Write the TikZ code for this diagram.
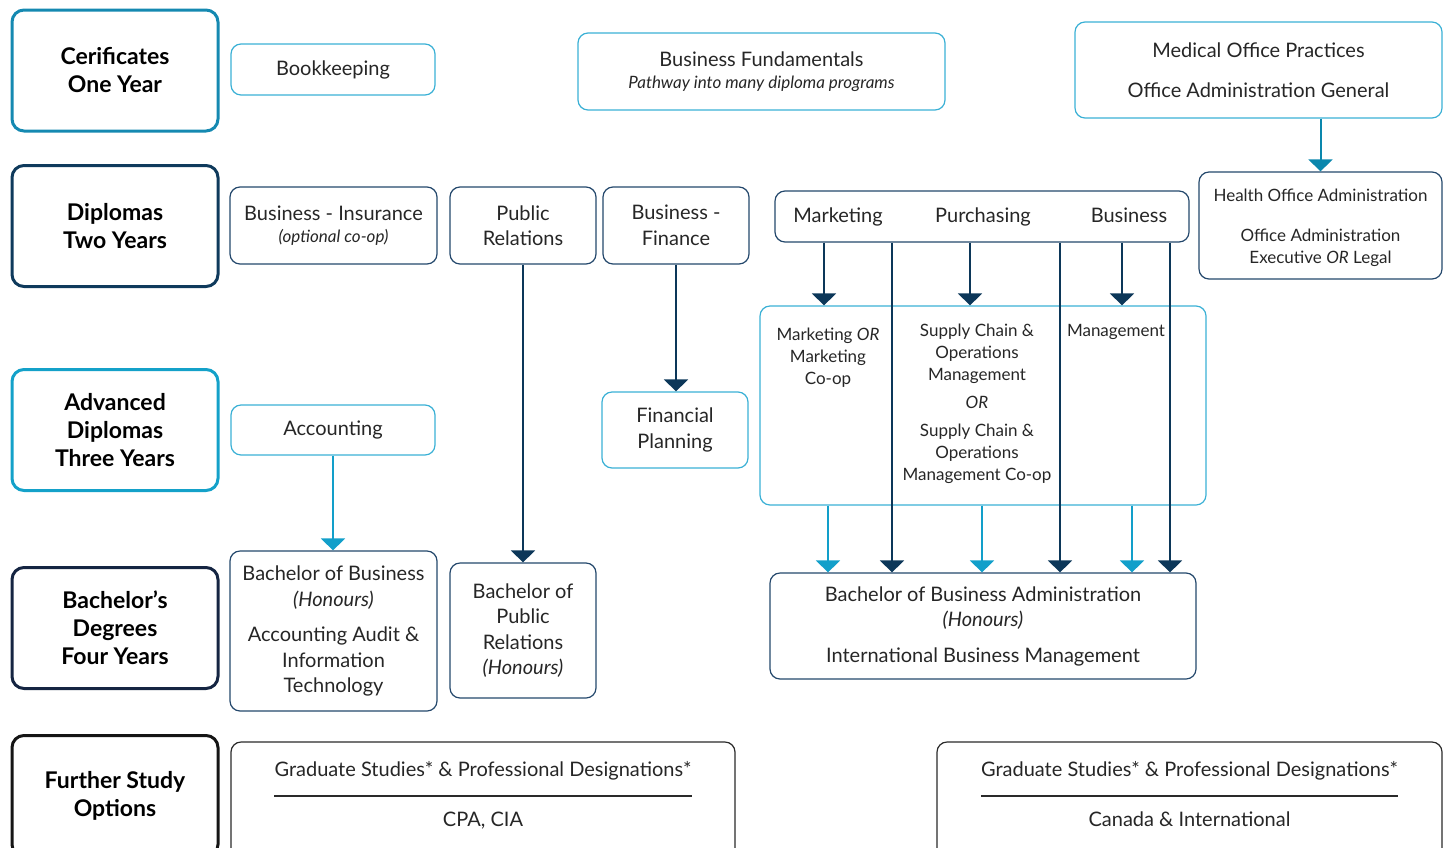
\documentclass[tikz,border=0pt]{standalone}
\usepackage{fontspec}
\setmainfont{Lato}
\usepackage{xcolor}
\usetikzlibrary{arrows.meta,calc}
\definecolor{certcolor}{HTML}{1589B1}
\definecolor{dipcolor}{HTML}{0F3A5C}
\definecolor{advcolor}{HTML}{14A1C9}
\definecolor{bachcolor}{HTML}{152542}
\definecolor{furthercolor}{HTML}{151515}
\definecolor{litecolor}{HTML}{3AB0D5}
\definecolor{navycolor}{HTML}{24486C}
\definecolor{gradcolor}{HTML}{2A2A2A}
\definecolor{litearrow}{HTML}{129FCA}
\definecolor{navyarrow}{HTML}{0C3759}
\definecolor{mediarrow}{HTML}{0A87AD}
\colorlet{textc}{black!85}
\newcommand{\catfont}{% category labels
\bfseries\fontsize{23}{28}\selectfont}
\newcommand{\progfont}{% program names
\fontsize{20}{25.5}\selectfont}
\newcommand{\smallfont}{% smaller program names
\fontsize{17}{22}\selectfont}
\newcommand{\subfont}{% italic remarks
\itshape\fontsize{17}{22}\selectfont}
\tikzstyle{catbox} =[
    draw,
    rounded corners=12pt,
    line width=3pt,
    minimum width=206pt,
    minimum height=121pt,
    align=center,
    font=\catfont,
    text=black
    ]
\tikzstyle{progbox} =[
    draw=navycolor,
    rounded corners=10pt,
    line width=1.2pt,
    align=center,
    font=\progfont,
    text=textc,
    inner sep=0pt
    ]
\tikzstyle{litebox} =[progbox, draw=litecolor]
\tikzstyle{txt} =[font=\progfont, text=textc, align=center, inner sep=0pt]
\tikzstyle{darr} =[draw=navyarrow, line width=2pt, -{Triangle[width=24pt,length=12pt]}]
\tikzstyle{larr} =[darr, draw=litearrow]
\tikzstyle{marr} =[darr, draw=mediarrow]

\begin{document}
\begin{tikzpicture}[x=1pt,y=-1pt]
\useasboundingbox (0,0) rectangle (1448,847);
\clip (0,0) rectangle (1448,847);
% categories
\node[catbox, draw=certcolor] (cert) at (115,70.5) {Cerificates\\One Year};
\node[catbox, draw=dipcolor] (dipl) at (115,226) {Diplomas\\Two Years};
\node[catbox, draw=advcolor] (adv) at (115,430) {Advanced\\Diplomas\\Three Years};
\node[catbox, draw=bachcolor] (bach) at (115,628) {Bachelor's\\Degrees\\Four Years};
\node[catbox, draw=furthercolor] (further) at (115,796) {Further Study\\Options};
% one year
\node[litebox, minimum width=204pt, minimum height=51pt] (book) at (333,69.5) {Bookkeeping};
\node[litebox, minimum width=367pt, minimum height=77pt] (fund) at (761.5,71.5) {%
    Business Fundamentals\\[-4pt]{\subfont Pathway into many diploma programs}};
\node[litebox, minimum width=367pt, minimum height=96pt] (medi) at (1258.5,70) {%
    Medical Office Practices\\[14pt]Office Administration General};
% two years
\node[progbox, minimum width=207pt, minimum height=77pt] (insu) at (333.5,225.5) {%
    Business - Insurance\\[-4pt]{\subfont (optional co-op)}};
\node[progbox, minimum width=146pt, minimum height=77pt] (pubr) at (523,225.5) {Public\\Relations};
\node[progbox, minimum width=146pt, minimum height=77pt] (finc) at (676,225.5) {Business -\\Finance};
\node[progbox, minimum width=414pt, minimum height=51pt] (trio) at (982,216.5) {};
\node[txt, anchor=base] (mkt) at (838,222) {Marketing};
\node[txt, anchor=base] (pur) at (983,222) {Purchasing};
\node[txt, anchor=base] (bus) at (1129,222) {Business};
\node[progbox, minimum width=243pt, minimum height=107pt] (hlth) at (1320.5,225.5) {};
\node[txt, font=\smallfont] (hlthtxt) at (1320.5,228) {%
    Health Office Administration\\[18pt]Office Administration\\Executive \textit{OR} Legal};
% three years
\node[litebox, minimum width=204pt, minimum height=50pt] (acct) at (333,430) {Accounting};
\node[litebox, minimum width=146pt, minimum height=76pt] (fpln) at (675,430) {Financial\\Planning};
\node[litebox, minimum width=446pt, minimum height=199pt] (mid) at (983,405.5) {};
\node[txt, font=\smallfont] (mkcol) at (828,358) {Marketing \textit{OR}\\Marketing\\Co-op};
\node[txt, font=\smallfont] (sccol) at (977,404) {%
    Supply Chain \&\\Operations\\Management\\[6pt]\textit{OR}\\[6pt]Supply Chain \&\\Operations\\Management Co-op};
\node[txt, font=\smallfont] (mgcol) at (1116,332) {Management};
% four years
\node[progbox, minimum width=207pt, minimum height=160pt] (bbus) at (333.5,631) {%
    Bachelor of Business\\\textit{(Honours)}\\[10pt]Accounting Audit \&\\Information\\Technology};
\node[progbox, minimum width=146pt, minimum height=135pt] (bpr) at (523,630.5) {%
    Bachelor of\\Public\\Relations\\\textit{(Honours)}};
\node[progbox, minimum width=426pt, minimum height=106pt] (bba) at (983,626) {%
    Bachelor of Business Administration\\\textit{(Honours)}\\[10pt]International Business Management};
% further study
\node[progbox, draw=gradcolor, minimum width=504pt, minimum height=128pt] (grd1) at (483,806) {};
\node[txt, anchor=base] (g1a) at (483,776) {Graduate Studies* \& Professional Designations*};
\node[txt, anchor=base] (g1b) at (483,826) {CPA, CIA};
\node[progbox, draw=gradcolor, minimum width=505pt, minimum height=128pt] (grd2) at (1189.5,806) {};
\node[txt, anchor=base] (g2a) at (1189.5,776) {Graduate Studies* \& Professional Designations*};
\node[txt, anchor=base] (g2b) at (1189.5,826) {Canada \& International};
\coordinate (g1m) at ($(g1a.base)!.4!(g1b.base)$);
\coordinate (g2m) at ($(g2a.base)!.4!(g2b.base)$);
\draw[gradcolor, line width=1.2pt] (g1a.west |- g1m) -- (g1a.east |- g1m);
\draw[gradcolor, line width=1.2pt] (g2a.west |- g2m) -- (g2a.east |- g2m);
% arrows
\coordinate (xa) at (824,0);
\coordinate (xb) at (970,0);
\coordinate (xc) at (1122,0);
\coordinate (ta) at (892,0);
\coordinate (tb) at (1060,0);
\coordinate (tc) at (1170,0);
\coordinate (la) at (828,0);
\coordinate (lb) at (982,0);
\coordinate (lc) at (1132,0);
\draw[marr] (medi.south -| hlth.north) -- (hlth.north);
\draw[darr] (finc.south) -- (finc.south |- fpln.north);
\draw[darr] (pubr.south) -- (bpr.north);
\draw[larr] (acct.south) -- (acct.south |- bbus.north);
\foreach \c in {xa,xb,xc}
    \draw[darr] (trio.south -| \c) -- (mid.north -| \c);
\foreach \c in {ta,tb,tc}
    \draw[darr] (trio.south -| \c) -- (bba.north -| \c);
\foreach \c in {la,lb,lc}
    \draw[larr] (mid.south -| \c) -- (bba.north -| \c);
\end{tikzpicture}
\end{document}
